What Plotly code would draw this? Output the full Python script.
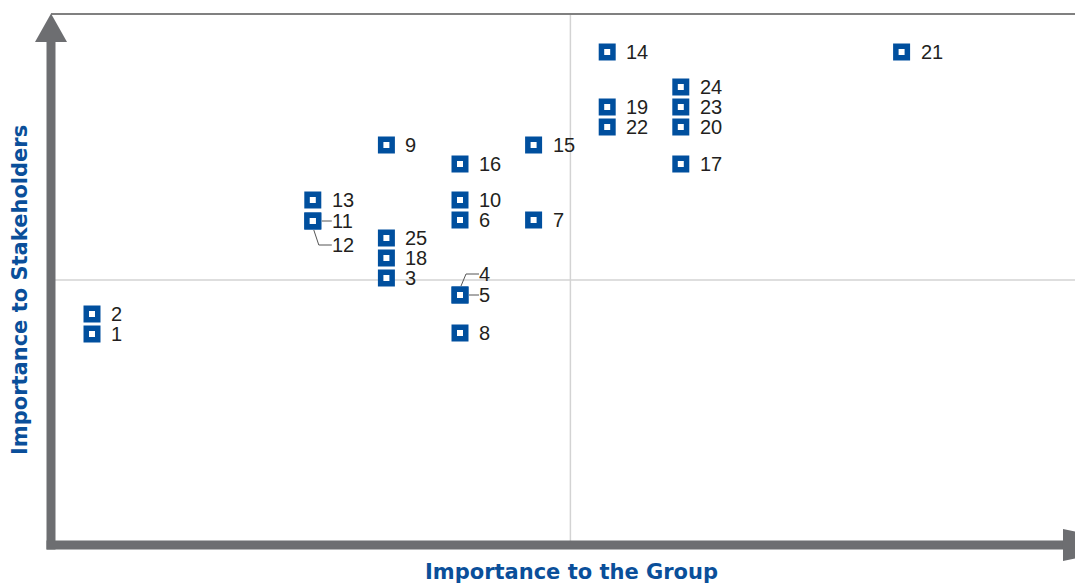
import plotly.graph_objects as go

# ---- data ----
labels = ["1", "2", "3", "4", "5", "6", "7", "8", "9", "10", "11", "12", "13",
          "14", "15", "16", "17", "18", "19", "20", "21", "22", "23", "24", "25"]
group_importance = [0, 0, 4, 5, 5, 5, 6, 5, 4, 5, 3, 3, 3,
                    7, 6, 5, 8, 4, 7, 8, 11, 7, 8, 8, 4]
stakeholder_importance = [0, 1, 2.8, 1.95, 1.95, 5.7, 5.7, 0.05, 9.45, 6.7, 5.65, 5.65, 6.7,
                          14.1, 9.45, 8.5, 8.5, 3.8, 11.35, 10.35, 14.1, 10.35, 11.35, 12.35, 4.8]
x_threshold = 6.5
y_threshold = 2.7
x_title = "Importance to the Group"
y_title = "Importance to Stakeholders"

# ---- style / layout ----
W, H = 1075, 583
PL, PT, PR, PB = 51, 14, 1075, 545   # plot area in page pixels
L, T, R, B = PL, PT, W - PR, H - PB
X_RANGE = [-0.557, 13.356]
Y_RANGE = [-10.55, 16.0]
BLUE = "#004f9e"
GREY = "#6d6e71"
TXT = "#231f20"
LEAD = "#555555"
TITLE = "#0a4f9a"
# label placed away from the marker, linked by a leader line (pixel offsets)
label_dy_px = {"12": 24, "4": -21}

pw = PR - PL
ph = PB - PT


def px_to_x(px):
    return X_RANGE[0] + (px - PL) / pw * (X_RANGE[1] - X_RANGE[0])


def py_to_y(py):
    return Y_RANGE[1] - (py - PT) / ph * (Y_RANGE[1] - Y_RANGE[0])


def x_to_px(x):
    return PL + (x - X_RANGE[0]) / (X_RANGE[1] - X_RANGE[0]) * pw


def y_to_py(y):
    return PT + (Y_RANGE[1] - y) / (Y_RANGE[1] - Y_RANGE[0]) * ph


def pp(px, py):
    return (px - PL) / pw, (PB - py) / ph


fig = go.Figure()

fig.add_trace(go.Scatter(
    x=group_importance, y=stakeholder_importance, mode="markers",
    marker=dict(symbol="square", size=17, color=BLUE, line=dict(width=0)),
    hoverinfo="skip", showlegend=False))
fig.add_trace(go.Scatter(
    x=group_importance, y=stakeholder_importance, mode="markers",
    marker=dict(symbol="square", size=6, color="white", line=dict(width=0)),
    hoverinfo="skip", showlegend=False))

shapes = []
# quadrant lines
shapes.append(dict(type="line", xref="x", yref="paper", x0=x_threshold, x1=x_threshold,
                   y0=0, y1=1, line=dict(color="#d3d3d3", width=1.5), layer="below"))
shapes.append(dict(type="line", xref="paper", yref="y", x0=0, x1=1,
                   y0=y_threshold, y1=y_threshold, line=dict(color="#d3d3d3", width=1.5), layer="below"))
# top border
shapes.append(dict(type="line", xref="paper", yref="paper", x0=0, x1=1.05, y0=1, y1=1,
                   line=dict(color="#808080", width=2)))


def poly(pts):
    s = ""
    for i, (a, b) in enumerate(pts):
        xp, yp = pp(a, b)
        s += ("M" if i == 0 else "L") + f"{xp:.5f},{yp:.5f} "
    return s + "Z"


# axis arrows
shapes.append(dict(type="path", xref="paper", yref="paper",
                   path=poly([(46.5, 549.5), (55.5, 549.5), (55.5, 41), (46.5, 41)]),
                   fillcolor=GREY, line=dict(width=0)))
shapes.append(dict(type="path", xref="paper", yref="paper",
                   path=poly([(35, 42), (51, 13.5), (67, 42)]),
                   fillcolor=GREY, line=dict(width=0)))
shapes.append(dict(type="path", xref="paper", yref="paper",
                   path=poly([(46.5, 540.5), (1064, 540.5), (1064, 549.5), (46.5, 549.5)]),
                   fillcolor=GREY, line=dict(width=0)))
shapes.append(dict(type="path", xref="paper", yref="paper",
                   path=poly([(1063, 529), (1140, 545), (1063, 561)]),
                   fillcolor=GREY, line=dict(width=0)))

annotations = []
for lab, xv, yv in zip(labels, group_importance, stakeholder_importance):
    cx, cy = x_to_px(xv), y_to_py(yv)
    dy = label_dy_px.get(lab, 0)
    annotations.append(dict(x=xv, y=py_to_y(cy + dy), xref="x", yref="y", text=lab,
                            showarrow=False, xanchor="left", yanchor="middle", xshift=17,
                            font=dict(family="Liberation Sans, Arial", size=20, color=TXT)))
    if lab in ("11", "5"):
        shapes.append(dict(type="line", xref="x", yref="y",
                           x0=px_to_x(cx + 9), x1=px_to_x(cx + 19), y0=yv, y1=yv,
                           line=dict(color=LEAD, width=1)))
    if dy:
        sgn = 1 if dy > 0 else -1
        pts = [(cx + 1, cy + sgn * 9), (cx + 6, cy + dy), (cx + 19, cy + dy)]
        path = ""
        for i, (a, b) in enumerate(pts):
            path += ("M" if i == 0 else "L") + f"{px_to_x(a):.5f},{py_to_y(b):.5f} "
        shapes.append(dict(type="path", xref="x", yref="y", path=path,
                           line=dict(color=LEAD, width=1)))

annotations.append(dict(x=pp(571, 0)[0], y=pp(0, 572)[1], xref="paper", yref="paper",
                        text=f"<b>{x_title}</b>", showarrow=False,
                        xanchor="center", yanchor="middle",
                        font=dict(family="DejaVu Sans", size=21, color=TITLE)))
annotations.append(dict(x=pp(20, 0)[0], y=pp(0, 290)[1], xref="paper", yref="paper",
                        text=f"<b>{y_title}</b>", showarrow=False, textangle=-90,
                        xanchor="center", yanchor="middle",
                        font=dict(family="DejaVu Sans", size=21, color=TITLE)))

fig.update_layout(
    width=W, height=H, margin=dict(l=L, r=R, t=T, b=B, pad=0),
    paper_bgcolor="white", plot_bgcolor="white",
    xaxis=dict(range=X_RANGE, visible=False, fixedrange=True),
    yaxis=dict(range=Y_RANGE, visible=False, fixedrange=True),
    shapes=shapes, annotations=annotations, showlegend=False,
)

page_css = ("document.documentElement.style.margin='0';"
            "document.documentElement.style.overflow='hidden';"
            "document.body.style.margin='0';"
            "document.body.style.overflow='hidden';")

fig.write_html("out.html", config={"displayModeBar": False}, post_script=page_css)
